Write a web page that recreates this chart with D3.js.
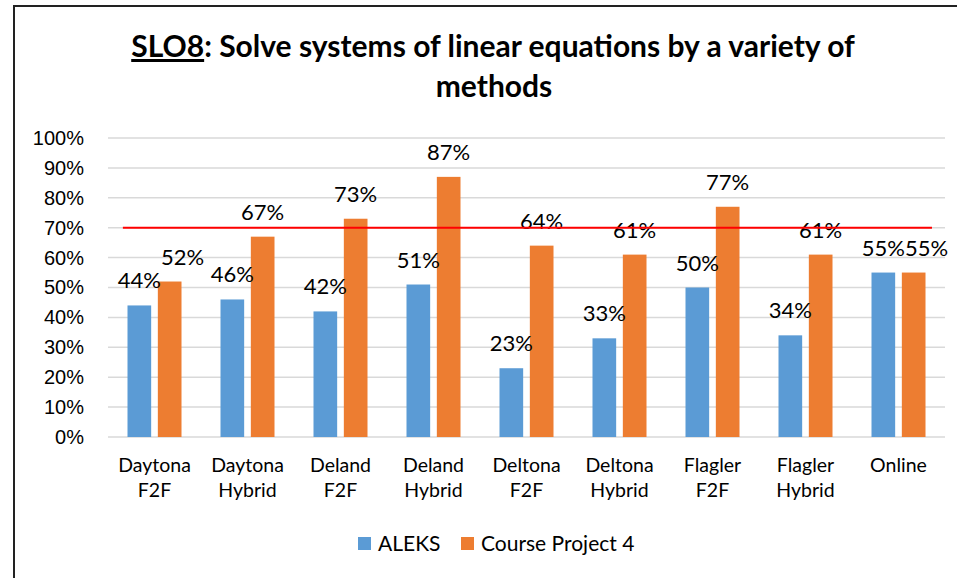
<!DOCTYPE html>
<html>
<head>
<meta charset="utf-8">
<script src="https://cdn.jsdelivr.net/npm/d3@7"></script>
<style>
  body { margin: 0; background: #fff; }
  svg { font-family: Lato, "Open Sans", sans-serif; }
  .tick text { font-size: 20px; fill: #000; }
</style>
</head>
<body>
<div id="canvas"></div>
<script>
// DATA
const categories = [
  ["Daytona", "F2F"], ["Daytona", "Hybrid"], ["Deland", "F2F"], ["Deland", "Hybrid"],
  ["Deltona", "F2F"], ["Deltona", "Hybrid"], ["Flagler", "F2F"], ["Flagler", "Hybrid"],
  ["Online"]
];
const seriesNames = ["ALEKS", "Course Project 4"];
const aleks = [0.44, 0.46, 0.42, 0.51, 0.23, 0.33, 0.50, 0.34, 0.55];
const project = [0.52, 0.67, 0.73, 0.87, 0.64, 0.61, 0.77, 0.61, 0.55];
const yTicks = [0, 0.1, 0.2, 0.3, 0.4, 0.5, 0.6, 0.7, 0.8, 0.9, 1.0];
const target = 0.70;
const targetSpan = [0.16, 8.86]; // in category units

// DIMENSIONS
const width = 957;
const height = 578;
const margin = { top: 138, right: 12, bottom: 141, left: 108 };
const plot_width = width - margin.left - margin.right;
const plot_height = height - margin.top - margin.bottom;
const colors = ["#5B9BD5", "#ED7D31"];

// CANVAS
const canvas = d3.select("#canvas")
  .append("svg")
  .attr("width", width)
  .attr("height", height);

// frame
canvas.append("path")
  .attr("d", `M14,${height} L14,6 L${width},6`)
  .attr("fill", "none")
  .attr("stroke", "#222")
  .attr("stroke-width", 2);

// TITLE
const title = canvas.append("text")
  .attr("x", 493)
  .attr("y", 57)
  .attr("text-anchor", "middle")
  .style("font-size", "30px")
  .style("font-weight", "bold");
title.append("tspan").style("text-decoration", "underline").text("SLO8");
title.append("tspan").text(": Solve systems of linear equations by a variety of");
canvas.append("text")
  .attr("x", 494)
  .attr("y", 97)
  .attr("text-anchor", "middle")
  .style("font-size", "30px")
  .style("font-weight", "bold")
  .text("methods");

const plot = canvas.append("g")
  .attr("transform", `translate(${margin.left}, ${margin.top})`);

// SCALES
const xScale = d3.scaleBand()
  .domain(d3.range(categories.length))
  .range([0, plot_width]);

const xInner = d3.scaleBand()
  .domain([0, 1])
  .range([xScale.bandwidth() / 2 - 27, xScale.bandwidth() / 2 + 27])
  .paddingInner(0.22);

const xLinear = d3.scaleLinear()
  .domain([0, categories.length])
  .range([0, plot_width]);

const yScale = d3.scaleLinear()
  .domain([0, 1])
  .range([plot_height, 0]);

// AXIS GRID
plot.append("g")
  .selectAll("line")
  .data(yTicks)
  .join("line")
  .attr("x1", 0)
  .attr("x2", plot_width)
  .attr("y1", d => yScale(d))
  .attr("y2", d => yScale(d))
  .attr("stroke", "#D9D9D9")
  .attr("stroke-width", 1.5);

// Y AXIS
const yAx = d3.axisLeft(yScale)
  .tickValues(yTicks)
  .tickFormat(d3.format(".0%"))
  .tickSize(0)
  .tickPadding(24);

plot.append("g")
  .call(yAx)
  .call(g => g.select(".domain").remove());

// BARS
const series = [aleks, project];
const groups = plot.selectAll("g.group")
  .data(categories)
  .join("g")
  .attr("class", "group")
  .attr("transform", (d, i) => `translate(${xScale(i)}, 0)`);

series.forEach((vals, s) => {
  groups.append("rect")
    .attr("x", xInner(s))
    .attr("width", xInner.bandwidth())
    .attr("y", (d, i) => yScale(vals[i]))
    .attr("height", (d, i) => plot_height - yScale(vals[i]))
    .attr("fill", colors[s]);
});

// DATA LABELS
series.forEach((vals, s) => {
  groups.append("text")
    .attr("class", "label s" + s)
    .attr("x", xInner(s) + xInner.bandwidth() / 2)
    .attr("y", (d, i) => yScale(vals[i]) - 17)
    .attr("text-anchor", "middle")
    .style("font-size", "22px")
    .text((d, i) => d3.format(".0%")(vals[i]));
});

// nudge the second label right when the pair collides (like Excel does)
groups.each(function () {
  const a = d3.select(this).select(".s0").node().getBBox();
  const t = d3.select(this).select(".s1");
  const b = t.node().getBBox();
  const overlapX = a.x + a.width - b.x;
  const overlapY = Math.min(a.y + a.height, b.y + b.height) - Math.max(a.y, b.y);
  if (overlapX > 0 && overlapY > 0) {
    t.attr("x", +t.attr("x") + overlapX);
  }
});

// CATEGORY LABELS
groups.append("text")
  .attr("x", xScale.bandwidth() / 2)
  .attr("y", plot_height + 35)
  .attr("text-anchor", "middle")
  .style("font-size", "19.5px")
  .selectAll("tspan")
  .data(d => d)
  .join("tspan")
  .attr("x", xScale.bandwidth() / 2)
  .attr("dy", (d, i) => i === 0 ? 0 : 25)
  .text(d => d);

// TARGET LINE
plot.append("line")
  .attr("x1", xLinear(targetSpan[0]))
  .attr("x2", xLinear(targetSpan[1]))
  .attr("y1", yScale(target))
  .attr("y2", yScale(target))
  .attr("stroke", "#FF0000")
  .attr("stroke-width", 2);

// LEGEND
const legend = canvas.append("g")
  .attr("transform", "translate(358, 537)");
const legendX = [0, 103];
seriesNames.forEach((name, s) => {
  legend.append("rect")
    .attr("x", legendX[s])
    .attr("y", 0)
    .attr("width", 13)
    .attr("height", 13)
    .attr("fill", colors[s]);
  legend.append("text")
    .attr("x", legendX[s] + 20)
    .attr("y", 14)
    .style("font-size", "21px")
    .text(name);
});
</script>
</body>
</html>
